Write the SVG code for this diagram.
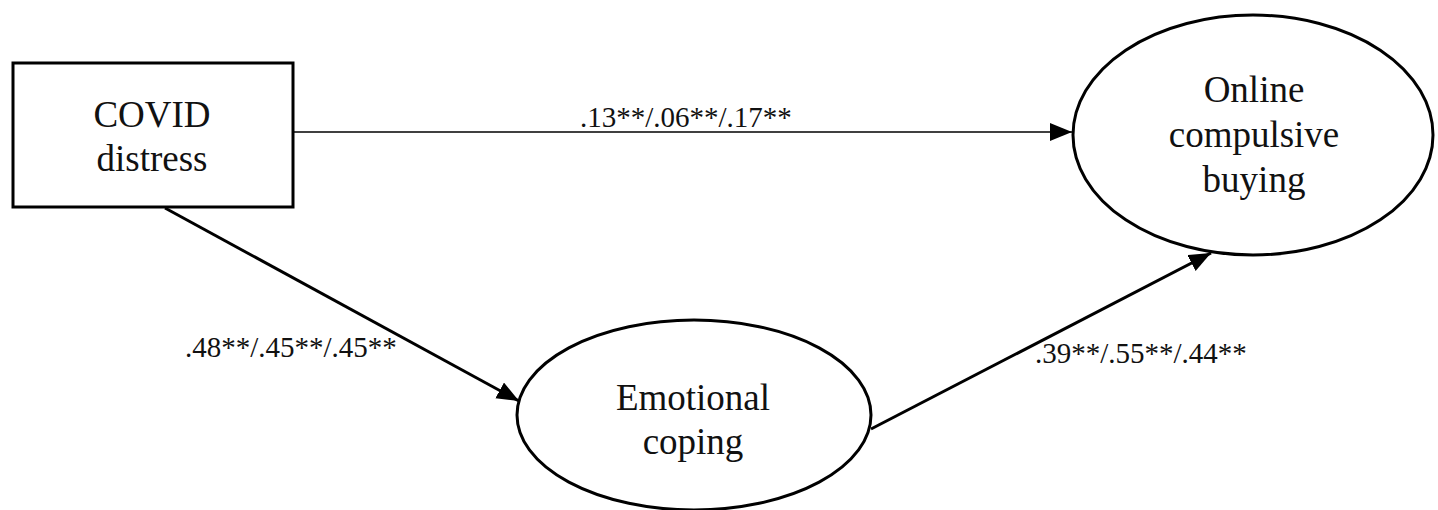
<svg xmlns="http://www.w3.org/2000/svg" width="1438" height="510" viewBox="0 0 1438 510">
  <style>
    .node { fill: #fff; stroke: #000; stroke-width: 3; }
    .label { font-family: "Liberation Serif", "Times New Roman", serif; font-size: 37px; fill: #111; text-anchor: middle; }
    .coef { font-family: "Liberation Serif", "Times New Roman", serif; font-size: 29px; fill: #111; }
    .edge { stroke: #000; fill: none; }
  </style>
  <defs>
    <marker id="arrow" markerUnits="userSpaceOnUse" markerWidth="24" markerHeight="20" refX="22" refY="9" orient="auto">
      <path d="M0,0 L22,9 L0,18 Z" fill="#000"/>
    </marker>
  </defs>
  <rect width="1438" height="510" fill="#fff"/>

  <g id="connectors">
    <line class="edge" x1="294" y1="132" x2="1072" y2="132" stroke-width="1.6" marker-end="url(#arrow)"/>
    <line class="edge" x1="165" y1="208" x2="519" y2="401" stroke-width="3" marker-end="url(#arrow)"/>
    <line class="edge" x1="871" y1="429" x2="1211" y2="253" stroke-width="3" marker-end="url(#arrow)"/>
    <text class="coef" x="580" y="127">.13**/.06**/.17**</text>
    <text class="coef" x="185" y="357">.48**/.45**/.45**</text>
    <text class="coef" x="1035" y="363">.39**/.55**/.44**</text>
  </g>

  <g id="covid-distress">
    <rect class="node" x="13" y="63" width="280" height="144"/>
    <text class="label" x="152" y="127">COVID</text>
    <text class="label" x="152" y="171">distress</text>
  </g>

  <g id="online-compulsive-buying">
    <ellipse class="node" cx="1253" cy="135" rx="180" ry="120"/>
    <text class="label" x="1254" y="102">Online</text>
    <text class="label" x="1254" y="147">compulsive</text>
    <text class="label" x="1254" y="192">buying</text>
  </g>

  <g id="emotional-coping">
    <ellipse class="node" cx="694" cy="415" rx="177" ry="95"/>
    <text class="label" x="693" y="410">Emotional</text>
    <text class="label" x="693" y="454">coping</text>
  </g>
</svg>
